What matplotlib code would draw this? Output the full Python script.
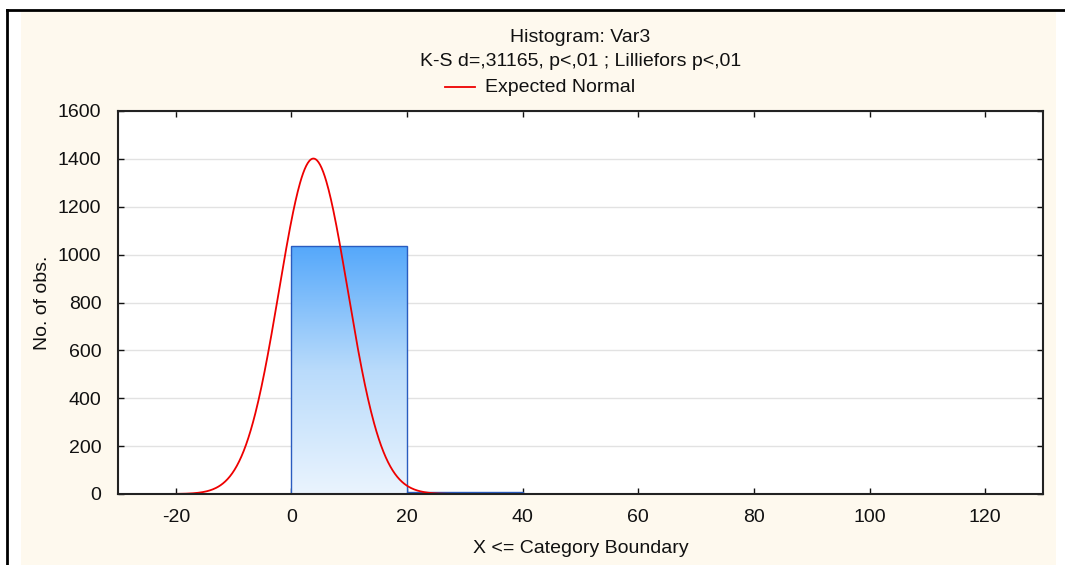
import numpy as np
import matplotlib
matplotlib.use("Agg")
import matplotlib.pyplot as plt
from matplotlib.lines import Line2D
from matplotlib.patches import Rectangle
from matplotlib.colors import LinearSegmentedColormap

plt.rcParams['font.family'] = ['Liberation Sans', 'DejaVu Sans']
plt.rcParams['axes.unicode_minus'] = False

# Data
bin_edges = [0, 20, 40, 60, 80, 100, 120]
counts = [1035, 10, 0, 0, 0, 0]
x_ticks = [-20, 0, 20, 40, 60, 80, 100, 120]
y_ticks = [0, 200, 400, 600, 800, 1000, 1200, 1400, 1600]
normal_mean = 3.8
normal_sd = 5.95
n_obs = 1045
bin_width = 20

title1 = "Histogram: Var3"
title2 = "K-S d=,31165, p<,01 ; Lilliefors p<,01"
legend_label = "Expected Normal"
xlabel = "X <= Category Boundary"
ylabel = "No. of obs."

FS = 14.0
W, H = 1065, 565
fig = plt.figure(figsize=(W / 100, H / 100), dpi=100)
fig.patch.set_facecolor('white')

# cream panel and frame
fig.patches.append(Rectangle((21 / W, 0), (1056 - 21) / W, (H - 11) / H,
                             transform=fig.transFigure, facecolor='#FEF9EE',
                             edgecolor='none', zorder=-10))
fig.lines.append(Line2D([7 / W, 1064 / W], [1 - 10 / H, 1 - 10 / H],
                        transform=fig.transFigure, color='black', lw=2, zorder=-5))
fig.lines.append(Line2D([7 / W, 7 / W], [0, 1 - 10 / H],
                        transform=fig.transFigure, color='black', lw=2, zorder=-5))

ax = fig.add_axes([118 / W, (H - 494) / H, (1043 - 118) / W, (494 - 111) / H])
ax.set_zorder(1)
ax.set_facecolor('white')

cmap = LinearSegmentedColormap.from_list('bar', ['#EAF4FE', '#B9DBFB', '#55A8FA'])
grad = np.linspace(0, 1, 256).reshape(-1, 1)
lefts = bin_edges[:-1]
bars = ax.bar(lefts, counts, width=bin_width, align='edge',
              facecolor='none', edgecolor='#2A5CC0', linewidth=1.0, zorder=3)
for b, c in zip(bars, counts):
    if c <= 0:
        continue
    x0 = b.get_x()
    im = ax.imshow(grad, extent=[x0, x0 + b.get_width(), 0, c], origin='lower',
                   cmap=cmap, aspect='auto', zorder=2.5, interpolation='bilinear')
    im.set_clip_path(b)
ax.set_xlim(-30, 130)
ax.set_ylim(0, 1600)

xs = np.linspace(-30, 130, 1200)
ys = n_obs * bin_width / (normal_sd * np.sqrt(2 * np.pi)) * np.exp(-0.5 * ((xs - normal_mean) / normal_sd) ** 2)
ax.plot(xs, ys, color='#EE0000', lw=1.3, zorder=4, clip_on=False)

ax.set_xticks(x_ticks)
ax.set_yticks(y_ticks)
ax.tick_params(direction='in', length=4, width=1, top=True, right=True,
               labelsize=FS, colors='#111111')
ax.tick_params(axis='x', pad=11)
ax.tick_params(axis='y', pad=12)
ax.grid(axis='y', color='#E2E2E2', lw=1, zorder=0)
ax.set_axisbelow(True)
for s in ax.spines.values():
    s.set_color('#222222')
    s.set_linewidth(1.5)
    s.set_zorder(5)

ax.set_xlabel(xlabel, fontsize=FS, color='#111111', labelpad=10)
ax.set_ylabel(ylabel, fontsize=FS, color='#111111', labelpad=5)

cx = 580.5 / W
fig.text(cx, 1 - 38 / H, title1, ha='center', va='center', fontsize=FS, color='#111111')
fig.text(cx, 1 - 61 / H, title2, ha='center', va='center', fontsize=FS, color='#111111')
fig.lines.append(Line2D([445 / W, 475 / W], [1 - 87 / H, 1 - 87 / H],
                        transform=fig.transFigure, color='#EE0000', lw=1.3))
fig.text(485 / W, 1 - 87 / H, legend_label, ha='left', va='center', fontsize=FS, color='#111111')

fig.savefig('out.png', dpi=100, facecolor=fig.get_facecolor())
